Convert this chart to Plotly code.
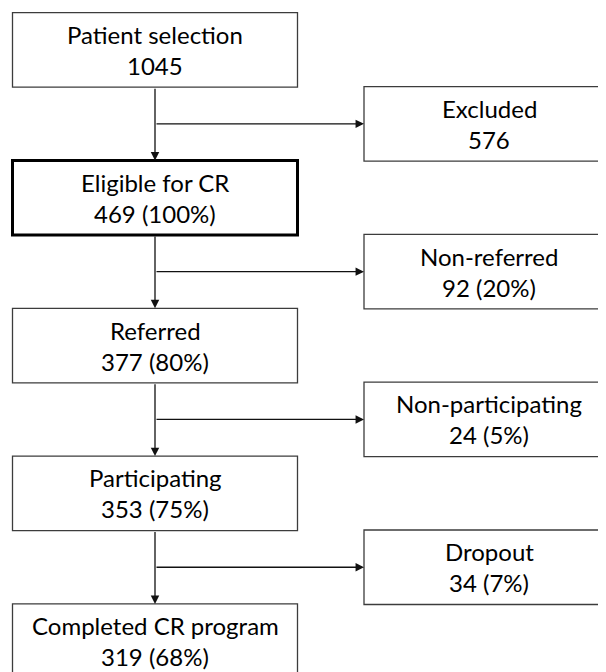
import plotly.graph_objects as go

# ---- data ----
main_labels = ["Patient selection", "Eligible for CR", "Referred", "Participating", "Completed CR program"]
main_counts = [1045, 469, 377, 353, 319]
main_pcts = [None, 100, 80, 75, 68]
side_labels = ["Excluded", "Non-referred", "Non-participating", "Dropout"]
side_counts = [576, 92, 24, 34]
side_pcts = [None, 20, 5, 7]

# ---- layout constants ----
W, H = 606, 672
PAD = 8  # page body margin
LX0, LX1 = 12.5, 297.5
RX0, RX1 = 364, 618
TOP0 = 12.7
STEP = 147.8
BOX_H = 74.5
STEM_X = 155
FONT = dict(family="Lato, 'Open Sans', sans-serif", size=24, color="#000000")
LINE_OFF = 15.5

def fmt(n, p):
    return f"{n}" if p is None else f"{n} ({p}%)"

shapes = []
annotations = []

for i, (lab, n, p) in enumerate(zip(main_labels, main_counts, main_pcts)):
    y0 = TOP0 + STEP * i
    y1 = y0 + BOX_H
    thick = (i == 1)
    shapes.append(dict(type="rect", xref="x", yref="y", x0=LX0, x1=LX1, y0=y0, y1=y1,
                       line=dict(color="#000000" if thick else "#3c3c3c", width=3 if thick else 1.3),
                       fillcolor="white", layer="above"))
    cy = (y0 + y1) / 2
    annotations.append(dict(x=(LX0 + LX1) / 2, y=cy - LINE_OFF, text=lab, showarrow=False,
                            xref="x", yref="y", font=FONT, xanchor="center", yanchor="middle"))
    annotations.append(dict(x=(LX0 + LX1) / 2, y=cy + LINE_OFF, text=fmt(n, p), showarrow=False,
                            xref="x", yref="y", font=FONT, xanchor="center", yanchor="middle"))

for i, (lab, n, p) in enumerate(zip(side_labels, side_counts, side_pcts)):
    y0 = TOP0 + STEP * i + STEP / 2
    y1 = y0 + BOX_H
    shapes.append(dict(type="rect", xref="x", yref="y", x0=RX0, x1=RX1, y0=y0, y1=y1,
                       line=dict(color="#3c3c3c", width=1.3), fillcolor="white", layer="above"))
    cy = (y0 + y1) / 2
    cx = (RX0 + RX1) / 2 - 2
    annotations.append(dict(x=cx, y=cy - LINE_OFF, text=lab, showarrow=False,
                            xref="x", yref="y", font=FONT, xanchor="center", yanchor="middle"))
    annotations.append(dict(x=cx, y=cy + LINE_OFF, text=fmt(n, p), showarrow=False,
                            xref="x", yref="y", font=FONT, xanchor="center", yanchor="middle"))
    # vertical arrow from main box i to main box i+1
    top_from = TOP0 + STEP * i + BOX_H
    top_to = TOP0 + STEP * (i + 1)
    annotations.append(dict(x=STEM_X, y=top_to, ax=STEM_X, ay=top_from, xref="x", yref="y",
                            axref="x", ayref="y", text="", showarrow=True, arrowhead=2,
                            arrowsize=1.3, arrowwidth=1.3, arrowcolor="#111111", standoff=0))
    # horizontal branch arrow to side box
    annotations.append(dict(x=RX0, y=cy, ax=STEM_X, ay=cy, xref="x", yref="y",
                            axref="x", ayref="y", text="", showarrow=True, arrowhead=2,
                            arrowsize=1.3, arrowwidth=1.3, arrowcolor="#111111", standoff=0))

fig = go.Figure()
fig.update_layout(
    width=W - PAD, height=H - PAD,
    margin=dict(l=0, r=0, t=0, b=0),
    paper_bgcolor="white", plot_bgcolor="white",
    xaxis=dict(range=[PAD, W], visible=False, fixedrange=True),
    yaxis=dict(range=[H, PAD], visible=False, fixedrange=True),
    shapes=shapes, annotations=annotations, showlegend=False,
)
fig.write_html("out.html")
